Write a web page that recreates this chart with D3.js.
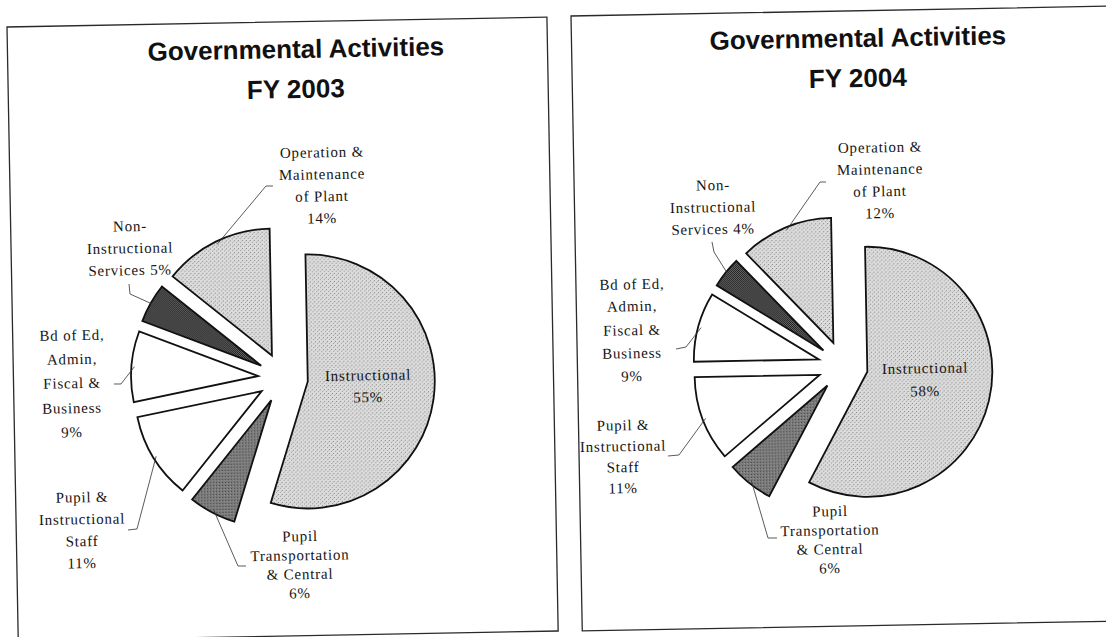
<!DOCTYPE html>
<html lang="en">
<head>
<meta charset="UTF-8">
<title>Governmental Activities</title>
<script src="https://cdn.jsdelivr.net/npm/d3@7"></script>
<style>
  body { margin: 0; background: #fff; }
  .lbl { font-family: "Liberation Serif", "Times New Roman", serif; font-size: 15px; letter-spacing: 0.8px; fill: #151515; }
  .ttl { font-family: "Liberation Sans", Arial, sans-serif; font-size: 26px; font-weight: bold; fill: #111; }
</style>
</head>
<body>
<script>
// slices go clockwise from 12 o'clock
var categories = ["Instructional", "Pupil Transportation & Central", "Pupil & Instructional Staff",
                  "Bd of Ed, Admin, Fiscal & Business", "Non-Instructional Services", "Operation & Maintenance of Plant"];
var values2003 = [55, 6, 11, 9, 5, 14];
var values2004 = [58, 6, 11, 9, 4, 12];
var years = ["FY 2003", "FY 2004"];
var labelLines = [
    ["Instructional", "{p}"],
    ["Pupil", "Transportation", "& Central", "{p}"],
    ["Pupil &", "Instructional", "Staff", "{p}"],
    ["Bd of Ed,", "Admin,", "Fiscal &", "Business", "{p}"],
    ["Non-", "Instructional", "Services {p}"],
    ["Operation &", "Maintenance", "of Plant", "{p}"]
];

var w = 1106, h = 637;
var fills = ["url(#light)", "url(#mid)", "#fff", "#fff", "url(#dark)", "url(#light)"];

// layout of the two (slightly tilted, scanned) panels
var panels = [
    {
        values: values2003, year: years[0],
        corner: [7, 27], pw: 540, ph: 614, pivot: [282, 330],
        titleX: 296, titleY: [58, 98],
        cx: 283, cy: 378, r: 127, d: 25,
        labels: [[368, [375, 397]], [300, [536, 555, 574, 593]], [82, [497, 519, 541, 563]],
                 [72, [335, 359, 383, 408, 432]], [130, [226, 248, 270]], [322, [152, 174, 196, 218]]],
        elbows: [null, [[246, 566], [238, 566]], [[128, 530], [137, 529]],
                 [[114, 384], [121, 384]], [[129, 284], [130, 294]], [[273, 186], [266, 186]]]
    },
    {
        values: values2004, year: years[1],
        corner: [571, 16], pw: 540, ph: 615, pivot: [846, 318],
        titleX: 858, titleY: [47, 87],
        cx: 843, cy: 366, r: 125, d: 25,
        labels: [[925, [368, 391]], [830, [511, 530, 549, 568]], [623, [425, 446, 467, 488]],
                 [632, [284, 306, 330, 353, 376]], [713, [185, 207, 229]], [880, [147, 169, 191, 213]]],
        elbows: [null, [[777, 538], [768, 538]], [[668, 456], [679, 455]],
                 [[676, 349], [686, 347]], [[712, 242], [714, 252]], [[826, 182], [820, 182]]]
    }
];

var tilt = -1.05;

var svg = d3.select("body").append("svg")
    .attr("width", w)
    .attr("height", h);

// halftone-like fills
var defs = svg.append("defs");
function pattern(id, size, bg, dots) {
    var p = defs.append("pattern").attr("id", id)
        .attr("width", size).attr("height", size)
        .attr("patternUnits", "userSpaceOnUse");
    p.append("rect").attr("width", size).attr("height", size).attr("fill", bg);
    dots.forEach(function(t) {
        p.append("rect").attr("x", t[0]).attr("y", t[1]).attr("width", 1).attr("height", 1).attr("fill", t[2]);
    });
}
pattern("light", 4, "#dcdcdc", [[0, 0, "#858585"], [2, 2, "#9a9a9a"], [3, 1, "#c0c0c0"]]);
pattern("mid", 3, "#7a7a7a", [[0, 0, "#474747"], [2, 1, "#969696"]]);
pattern("dark", 2, "#1e1e1e", [[1, 0, "#6a6a6a"], [0, 1, "#6a6a6a"]]);

var pie = d3.pie().sort(null).value(function(d) { return d; });

panels.forEach(function(P) {
    // undo the panel tilt so a screen position lands where it should
    var a = -tilt * Math.PI / 180;
    function u(x, y) {
        var dx = x - P.pivot[0], dy = y - P.pivot[1];
        return [P.pivot[0] + dx * Math.cos(a) - dy * Math.sin(a),
                P.pivot[1] + dx * Math.sin(a) + dy * Math.cos(a)];
    }

    var g = svg.append("g")
        .attr("transform", "rotate(" + tilt + "," + P.pivot[0] + "," + P.pivot[1] + ")");

    var c0 = u(P.corner[0], P.corner[1]);
    g.append("rect")
        .attr("x", c0[0]).attr("y", c0[1])
        .attr("width", P.pw).attr("height", P.ph)
        .attr("fill", "none")
        .attr("stroke", "#2a2a2a")
        .attr("stroke-width", 1.3);

    // title
    [ "Governmental Activities", P.year ].forEach(function(t, i) {
        var p = u(P.titleX, P.titleY[i]);
        g.append("text").attr("class", "ttl")
            .attr("x", p[0]).attr("y", p[1])
            .attr("text-anchor", "middle")
            .text(t);
    });

    var arcs = pie(P.values);
    var arc = d3.arc().innerRadius(0).outerRadius(P.r);
    var c = u(P.cx, P.cy);
    var pieG = g.append("g").attr("transform", "translate(" + c[0] + "," + c[1] + ")");

    function dir(s) {
        var m = (s.startAngle + s.endAngle) / 2;
        return [Math.sin(m), -Math.cos(m)];
    }

    // exploded slices
    pieG.selectAll("path.slice")
        .data(arcs)
        .enter()
        .append("path")
        .attr("class", "slice")
        .attr("d", arc)
        .attr("transform", function(s) {
            var v = dir(s);
            return "translate(" + v[0] * P.d + "," + v[1] * P.d + ")";
        })
        .attr("fill", function(s, i) { return fills[i]; })
        .attr("stroke", "#111")
        .attr("stroke-width", 1.8)
        .attr("stroke-linejoin", "miter");

    // leader lines
    arcs.forEach(function(s, i) {
        if (!P.elbows[i]) return;
        var v = dir(s);
        var rr = P.d + P.r - 3;
        var pts = P.elbows[i].map(function(q) {
            var l = u(q[0], q[1]);
            return [l[0] - c[0], l[1] - c[1]];
        });
        pts.push([v[0] * rr, v[1] * rr]);
        pieG.append("path")
            .attr("d", d3.line()(pts))
            .attr("fill", "none")
            .attr("stroke", "#333")
            .attr("stroke-width", 0.8);
    });

    // labels
    P.labels.forEach(function(L, i) {
        var lines = labelLines[i];
        lines.forEach(function(t, j) {
            var p = u(L[0], L[1][j]);
            g.append("text").attr("class", "lbl")
                .attr("x", p[0]).attr("y", p[1])
                .attr("dy", "0.35em")
                .attr("text-anchor", "middle")
                .text(t.replace("{p}", P.values[i] + "%"));
        });
    });
});
</script>
</body>
</html>
